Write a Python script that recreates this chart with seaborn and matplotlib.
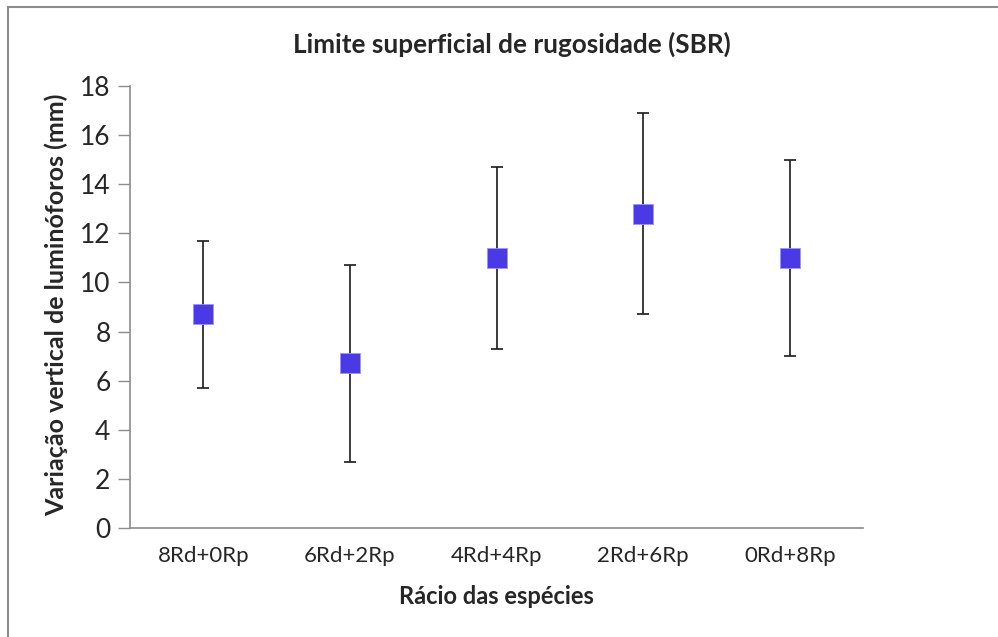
import numpy as np
import pandas as pd
import matplotlib
matplotlib.use("Agg")
import matplotlib.pyplot as plt
import seaborn as sns
from matplotlib.patches import Rectangle

# valores
especies = ["8Rd+0Rp", "6Rd+2Rp", "4Rd+4Rp", "2Rd+6Rp", "0Rd+8Rp"]
media = [8.7, 6.7, 11.0, 12.8, 11.0]
limite_inf = [5.7, 2.7, 7.3, 8.7, 7.0]
limite_sup = [11.7, 10.7, 14.7, 16.9, 15.0]

df = pd.DataFrame({"especie": especies, "media": media,
                   "inf": limite_inf, "sup": limite_sup})

sns.set_style("white")
plt.rcParams['font.family'] = ['Lato', 'DejaVu Sans']

fig = plt.figure(figsize=(9.98, 6.37), dpi=100)
ax = fig.add_axes([130/998, 1 - 528/637, (863-130)/998, (528-86)/637])

x = np.arange(len(df))
yerr = [df["media"] - df["inf"], df["sup"] - df["media"]]
ax.errorbar(x, df["media"], yerr=yerr, fmt="none", ecolor="#1a1a1a",
            elinewidth=1.2, capsize=4.5, capthick=1.2, zorder=2)
sns.scatterplot(x=x, y=df["media"], marker="s", s=190, color="#4a3ae6",
                edgecolor="#9f95f5", linewidth=0.6, ax=ax, zorder=3)

ax.set_xlim(-0.5, 4.5)
ax.set_ylim(0, 18)
ax.set_yticks(range(0, 19, 2))
ax.set_xticks(x)
ax.set_xticklabels(especies, fontsize=16)
ax.tick_params(axis="y", labelsize=19, length=9, width=1, color="#8c8c8c",
               pad=5, left=True, direction="out")
ax.tick_params(axis="x", length=0, pad=13)

for s in ["top", "right"]:
    ax.spines[s].set_visible(False)
for s in ["left", "bottom"]:
    ax.spines[s].set_color("#8c8c8c")
    ax.spines[s].set_linewidth(1.2)

ax.set_xlabel("")
ax.set_ylabel("")
fig.text(496/998, 1 - 597/637, "Rácio das espécies", fontsize=17,
         fontweight="bold", ha="center", va="center")
fig.text(56/998, 1 - 305/637, "Variação vertical de luminóforos (mm)",
         fontsize=18, fontweight="bold", rotation=90, ha="center", va="center")
fig.text(512/998, 1 - 44/637, "Limite superficial de rugosidade (SBR)",
         fontsize=18.8, fontweight="bold", ha="center", va="center")

# moldura do gráfico (cortada à direita e em baixo)
fig.patches.append(Rectangle((8/998, -0.05), 1.05, 1.05 - 7/637,
                             transform=fig.transFigure, fill=False,
                             edgecolor="#8c8c8c", linewidth=1.5))

plt.savefig("out.png", dpi=100)
